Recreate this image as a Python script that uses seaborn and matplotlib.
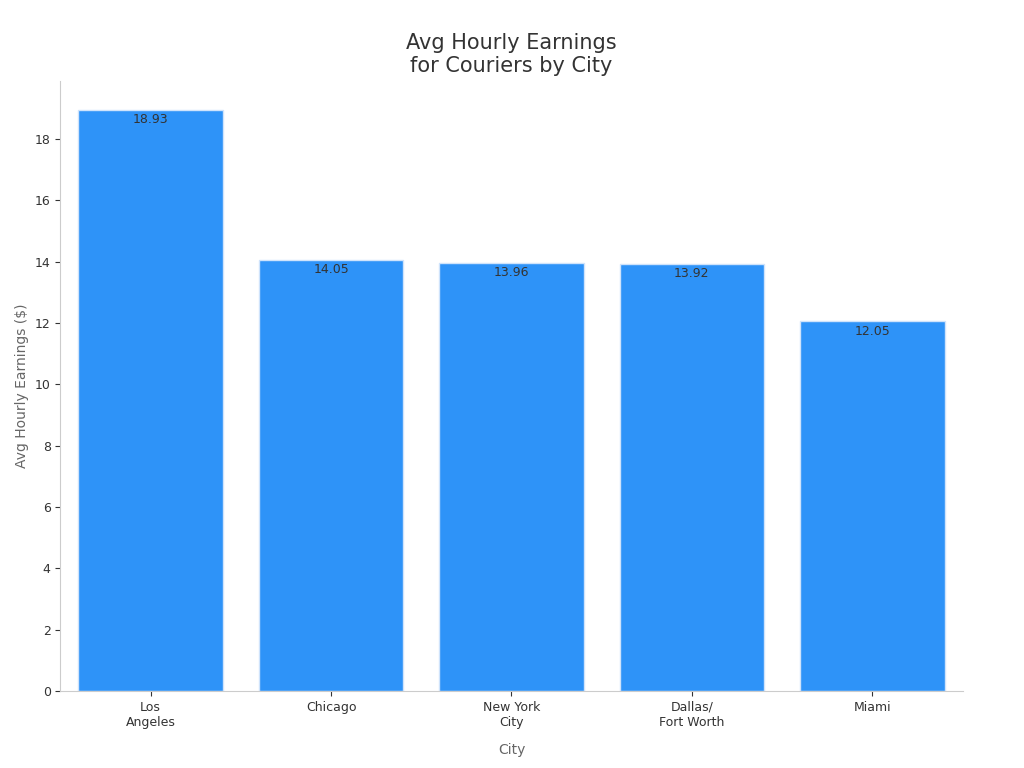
import matplotlib
matplotlib.use("Agg")
import matplotlib.pyplot as plt
import seaborn as sns
import pandas as pd

cities = ["Los\nAngeles", "Chicago", "New York\nCity", "Dallas/\nFort Worth", "Miami"]
earnings = [18.93, 14.05, 13.96, 13.92, 12.05]

df = pd.DataFrame({"City": cities, "Earnings": earnings})
plt.rcParams["font.family"] = "DejaVu Sans"
fig, ax = plt.subplots(figsize=(10.24, 7.68), dpi=100)
sns.barplot(data=df, x="City", y="Earnings", color="#2E93F8", saturation=1, width=0.8,
            edgecolor="#cfe3fb", linewidth=1, ax=ax)
for i, v in enumerate(earnings):
    ax.text(i, v - 0.1, f"{v:.2f}", ha="center", va="top", fontsize=9, color="#333333")
ax.set_title("Avg Hourly Earnings\nfor Couriers by City", fontsize=15, color="#333333")
ax.set_xlabel("City", fontsize=10, color="#666666", labelpad=10)
ax.set_ylabel("Avg Hourly Earnings ($)", fontsize=10, color="#666666")
ax.set_yticks(range(0, 19, 2))
ax.set_ylim(0, 19.9)
ax.set_xlim(-0.5, 4.5)
ax.tick_params(labelsize=9, colors="#333333")
for s in ["top", "right"]:
    ax.spines[s].set_visible(False)
for s in ["left", "bottom"]:
    ax.spines[s].set_color("#cccccc")
plt.subplots_adjust(left=0.059, right=0.94, top=0.895, bottom=0.1)
fig.savefig("out.png")
